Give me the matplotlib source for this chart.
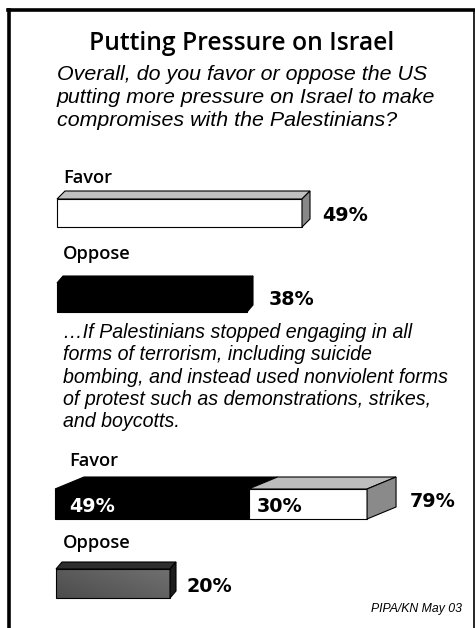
import numpy as np
import matplotlib
matplotlib.use("Agg")
import matplotlib.pyplot as plt
from matplotlib.patches import Polygon
from matplotlib.lines import Line2D

# ---- data ----
title = "Putting Pressure on Israel"
question1_lines = ["Overall, do you favor or oppose the US",
                   "putting more pressure on Israel to make",
                   "compromises with the Palestinians?"]
question2_lines = ["\u2026If Palestinians stopped engaging in all",
                   "forms of terrorism, including suicide",
                   "bombing, and instead used nonviolent forms",
                   "of protest such as demonstrations, strikes,",
                   "and boycotts."]
categories = ["Favor", "Oppose"]
overall_values = [49, 38]
conditional_favor_parts = [49, 30]   # already favor + would now favor
conditional_favor_total = 79
conditional_oppose = 20
source = "PIPA/KN May 03"

W, H = 475, 628
fig = plt.figure(figsize=(W / 100, H / 100), dpi=100)
fig.patch.set_facecolor("white")
renderer = fig.canvas.get_renderer()

HEAD = ["Open Sans", "DejaVu Sans"]
NUM = ["DejaVu Sans"]
ITAL = ["Liberation Sans", "DejaVu Sans"]


def fx(px):
    return px / W


def fy(py):
    return 1 - py / H


def fitted_size(lines, width_px, **kw):
    """Font size at which the given lines span width_px pixels in total."""
    total = 0.0
    for s in lines:
        t = fig.text(0, 0, s, fontsize=10, **kw)
        total += t.get_window_extent(renderer).width
        t.remove()
    return 10 * width_px / total


def bar_axes(left, top, bottom, px_per_pct):
    """Axes whose x unit is one percentage point and whose y spans the bar front."""
    span = (W - left) / px_per_pct
    ax = fig.add_axes([fx(left), fy(bottom), fx(span * px_per_pct), (bottom - top) / H])
    ax.set_xlim(0, span)
    ax.set_ylim(0, 1)
    ax.axis("off")
    return ax


def box3d(ax, start, value, front, top, side, dx_px, dy_px, px_per_pct, height_px,
          lw=0.8, draw_side=True):
    dx = dx_px / px_per_pct
    dy = dy_px / height_px
    end = start + value
    bars = ax.barh(0.5, value, left=start, height=1.0, color=front,
                   edgecolor="black", linewidth=lw, clip_on=False, zorder=2)
    ax.add_patch(Polygon([(start, 1), (end, 1), (end + dx, 1 + dy), (start + dx, 1 + dy)],
                         closed=True, facecolor=top, edgecolor="black",
                         linewidth=lw, clip_on=False, zorder=2))
    if draw_side:
        ax.add_patch(Polygon([(end, 0), (end + dx, dy), (end + dx, 1 + dy), (end, 1)],
                             closed=True, facecolor=side, edgecolor="black",
                             linewidth=lw, clip_on=False, zorder=2))
    return bars[0]


# ---- type sizes ----
title_size = fitted_size([title], 304, family=HEAD, fontweight="semibold")
label_size = fitted_size(["Oppose"], 68, family=HEAD, fontweight="semibold")
num_size = fitted_size(["38%"], 46, family=NUM, fontweight="bold")
q1_size = fitted_size(question1_lines, 380 + 379 + 330, family=ITAL, style="italic")
q2_size = fitted_size(question2_lines, 345 + 310 + 392 + 372 + 114,
                      family=ITAL, style="italic")
src_size = 8.8


def label(x, y, s, **kw):
    fig.text(fx(x), fy(y), s, ha="left", va="baseline", fontsize=label_size,
             fontweight="semibold", family=HEAD, **kw)


def number(x, y, s, color="black"):
    fig.text(fx(x), fy(y), s, ha="left", va="baseline", fontsize=num_size,
             fontweight="bold", family=NUM, color=color)


# ---- frame ----
fig.add_artist(Line2D([fx(9), fx(9)], [0, fy(10)], color="black", lw=2.6))
fig.add_artist(Line2D([fx(8), fx(473.5)], [fy(10), fy(10)], color="black", lw=2.6))
fig.add_artist(Line2D([fx(473.5), fx(473.5)], [0, fy(10)], color="black", lw=1.2))

# ---- headings ----
fig.text(fx(242), fy(50), title, ha="center", va="baseline", fontsize=title_size,
         fontweight="semibold", family=HEAD)
for i, line in enumerate(question1_lines):
    fig.text(fx(57), fy(80 + 22.8 * i), line, ha="left", va="baseline",
             fontsize=q1_size, style="italic", family=ITAL)

# ---- overall question ----
s1 = 5.0
ax1 = bar_axes(57, 199, 227, s1)
box3d(ax1, 0, overall_values[0], "white", "#c0c0c0", "#888888", 8, 8, s1, 28)
ax2 = bar_axes(57, 283, 312, s1)
box3d(ax2, 0, overall_values[1], "black", "black", "black", 6, 7, s1, 29)
label(63, 183, categories[0])
label(63, 259, categories[1])
number(57 + overall_values[0] * s1 + 20, 221, f"{overall_values[0]}%")
number(57 + overall_values[1] * s1 + 22, 305, f"{overall_values[1]}%")

# ---- conditional question ----
for i, line in enumerate(question2_lines):
    fig.text(fx(63), fy(338 + 22.3 * i), line, ha="left", va="baseline",
             fontsize=q2_size, style="italic", family=ITAL)

s2 = 3.95
ax3 = bar_axes(55, 489, 519, s2)
a, b = conditional_favor_parts
box3d(ax3, 0, a, "black", "black", "black", 29, 12, s2, 30, draw_side=False)
box3d(ax3, a, b, "white", "#bdbdbd", "#8a8a8a", 29, 12, s2, 30)
label(69, 466, categories[0])
number(69, 512, f"{a}%", color="white")
number(55 + a * s2 + 8, 512, f"{b}%")
number(55 + (a + b) * s2 + 43, 507, f"{conditional_favor_total}%")

s3 = 5.7
ax4 = bar_axes(56, 569, 598, s3)
front = box3d(ax4, 0, conditional_oppose, "none", "#2e2e2e", "#1c1c1c", 6, 7, s3, 29)
grad = np.linspace(0, 1, 256)
gx, gy = np.meshgrid(grad, grad)
shade = 0.30 + 0.14 * (0.6 * gx + 0.4 * gy)
img = ax4.imshow(shade, cmap="gray", vmin=0, vmax=1, extent=[0, conditional_oppose, 0, 1],
                 aspect="auto", origin="lower", zorder=1)
img.set_clip_path(front)
ax4.set_xlim(0, (W - 56) / s3)
ax4.set_ylim(0, 1)
label(63, 548, categories[1])
number(56 + conditional_oppose * s3 + 17, 592, f"{conditional_oppose}%")

fig.text(fx(462), fy(612), source, ha="right", va="baseline", fontsize=src_size,
         style="italic", family=ITAL)

fig.savefig("out.png", dpi=100, facecolor="white")
